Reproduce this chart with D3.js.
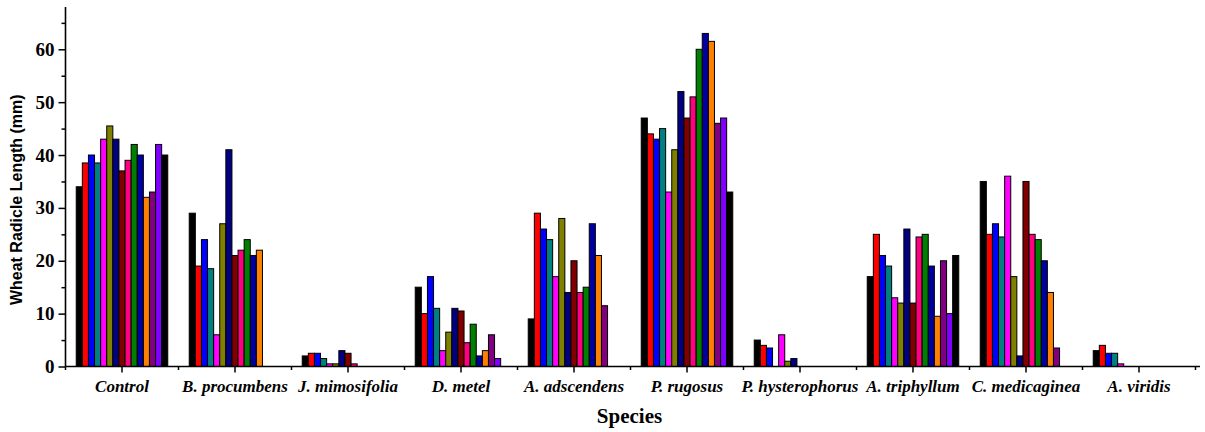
<!DOCTYPE html>
<html>
<head>
<meta charset="utf-8">
<script src="https://cdn.jsdelivr.net/npm/d3@7"></script>
<style>
  html, body { margin: 0; padding: 0; background: #fff; }
  svg { display: block; }
</style>
</head>
<body>
<svg id="chart" width="1205" height="432"></svg>
<script>
// Species along the x axis
const categories = ["Control", "B. procumbens", "J. mimosifolia", "D. metel", "A. adscendens",
  "P. rugosus", "P. hysterophorus", "A. triphyllum", "C. medicaginea", "A. viridis"];

// Fifteen treatment series, one bar each per species
const seriesNames = d3.range(1, 16).map(i => "T" + i);
const seriesColors = ["#000000", "#FF0000", "#0000FF", "#008080", "#FF00FF", "#808000", "#000080",
  "#800000", "#FF0080", "#008000", "#0000A0", "#FF8000", "#800080", "#8000FF", "#000000"];

// Radicle length (mm) per species, in series order
const control        = [34, 38.5, 40, 38.5, 43, 45.5, 43, 37, 39, 42, 40, 32, 33, 42, 40];
const bProcumbens    = [29, 19, 24, 18.5, 6, 27, 41, 21, 22, 24, 21, 22, 0, 0, 0];
const jMimosifolia   = [2, 2.5, 2.5, 1.5, 0.5, 0.5, 3, 2.5, 0.5, 0, 0, 0, 0, 0, 0];
const dMetel         = [15, 10, 17, 11, 3, 6.5, 11, 10.5, 4.5, 8, 2, 3, 6, 1.5, 0];
const aAdscendens    = [9, 29, 26, 24, 17, 28, 14, 20, 14, 15, 27, 21, 11.5, 0, 0];
const pRugosus       = [47, 44, 43, 45, 33, 41, 52, 47, 51, 60, 63, 61.5, 46, 47, 33];
const pHysterophorus = [5, 4, 3.5, 0, 6, 1, 1.5, 0, 0, 0, 0, 0, 0, 0, 0];
const aTriphyllum    = [17, 25, 21, 19, 13, 12, 26, 12, 24.5, 25, 19, 9.5, 20, 10, 21];
const cMedicaginea   = [35, 25, 27, 24.5, 36, 17, 2, 35, 25, 24, 20, 14, 3.5, 0, 0];
const aViridis       = [3, 4, 2.5, 2.5, 0.5, 0, 0, 0, 0, 0, 0, 0, 0, 0, 0];

const values = [control, bProcumbens, jMimosifolia, dMetel, aAdscendens,
  pRugosus, pHysterophorus, aTriphyllum, cMedicaginea, aViridis];

const yMajorTicks = [0, 10, 20, 30, 40, 50, 60];
const yMinorTicks = [5, 15, 25, 35, 45, 55, 65];

const svg = d3.select("#chart");
const plot = { left: 65.5, right: 1195.5, top: 7, bottom: 366.5 };

const x = d3.scaleBand().domain(categories).range([plot.left, plot.right]).padding(0);
const groupSpan = x.bandwidth() * 0.81;
const xs = d3.scaleBand().domain(seriesNames)
  .range([(x.bandwidth() - groupSpan) / 2, (x.bandwidth() + groupSpan) / 2]).padding(0);
const y = d3.scaleLinear().domain([0, 68]).range([plot.bottom, plot.top]);

// Bars
const rows = [];
categories.forEach((c, ci) => {
  values[ci].forEach((v, si) => {
    if (v > 0) rows.push({ c, s: seriesNames[si], v, color: seriesColors[si] });
  });
});
svg.append("g").selectAll("rect").data(rows).join("rect")
  .attr("x", d => x(d.c) + xs(d.s))
  .attr("y", d => y(d.v))
  .attr("width", xs.bandwidth())
  .attr("height", d => y(0) - y(d.v))
  .attr("fill", d => d.color)
  .attr("stroke", "#000")
  .attr("stroke-width", 1);

// Y axis: major ticks with labels, minor ticks between
const yAxis = svg.append("g").attr("transform", `translate(${plot.left},0)`)
  .call(d3.axisLeft(y).tickValues(yMajorTicks).tickSize(7).tickPadding(4).tickSizeOuter(0));
yAxis.select(".domain").attr("d", `M0,${plot.top}V${plot.bottom}`);
const yMinor = svg.append("g").attr("transform", `translate(${plot.left},0)`)
  .call(d3.axisLeft(y).tickValues(yMinorTicks).tickSize(4).tickFormat("").tickSizeOuter(0));
yMinor.select(".domain").remove();

// X axis: major ticks at group centres, minor ticks at group boundaries
const xAxis = svg.append("g").attr("transform", `translate(0,${plot.bottom})`)
  .call(d3.axisBottom(x).tickSize(6).tickPadding(7).tickSizeOuter(0));
xAxis.select(".domain").attr("d", `M${plot.left},0H1200`);
const boundaries = categories.map(c => x(c)).concat([plot.right]);
svg.append("g").attr("transform", `translate(0,${plot.bottom})`)
  .selectAll("line").data(boundaries).join("line")
  .attr("x1", d => d).attr("x2", d => d).attr("y1", 0).attr("y2", 3.5)
  .attr("stroke", "#000").attr("stroke-width", 1.5);

svg.selectAll(".domain").attr("stroke", "#000").attr("stroke-width", 1.6);
svg.selectAll(".tick line").attr("stroke", "#000").attr("stroke-width", 1.5);

yAxis.selectAll(".tick text")
  .attr("font-family", "'Liberation Serif', 'Times New Roman', serif")
  .attr("font-weight", "bold").attr("font-size", 19).attr("fill", "#000");

xAxis.selectAll(".tick text")
  .attr("font-family", "'Liberation Serif', 'Times New Roman', serif")
  .attr("font-weight", "bold").attr("font-style", "italic")
  .attr("font-size", 17).attr("fill", "#000");

// Axis titles
svg.append("text")
  .attr("transform", `translate(22,${(plot.top + plot.bottom) / 2 + 13}) rotate(-90)`)
  .attr("text-anchor", "middle")
  .attr("font-family", "'Liberation Sans', Arial, sans-serif")
  .attr("font-weight", "bold").attr("font-size", 16)
  .text("Wheat Radicle Length (mm)");

svg.append("text")
  .attr("x", (plot.left + plot.right) / 2 - 1)
  .attr("y", 423)
  .attr("text-anchor", "middle")
  .attr("font-family", "'Liberation Serif', 'Times New Roman', serif")
  .attr("font-weight", "bold").attr("font-size", 21)
  .text("Species");
</script>
</body>
</html>
